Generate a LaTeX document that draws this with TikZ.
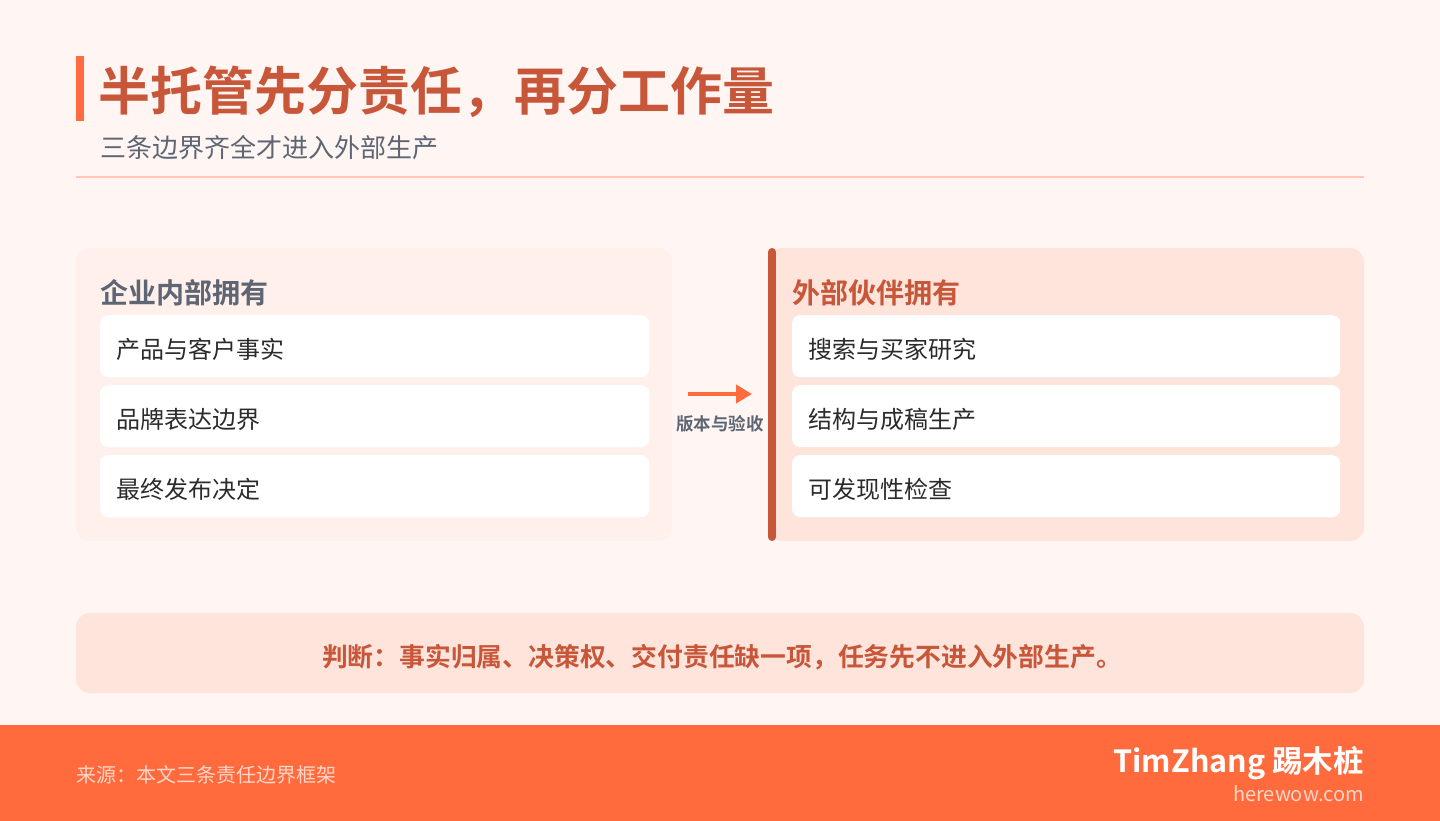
\documentclass[tikz,border=0pt]{standalone}
\usepackage{fontspec}
\usepackage{xcolor}
\usetikzlibrary{arrows.meta,positioning}
\setmainfont{Noto Sans CJK SC}
\newfontfamily\cjk{Noto Sans CJK SC}[BoldFont={* Bold}]

\definecolor{pagebg}{HTML}{FFF6F3}
\definecolor{softbg}{HTML}{FFF0EC}
\definecolor{warmbg}{HTML}{FFE4DC}
\definecolor{accent}{HTML}{FF6B3D}
\definecolor{rust}{HTML}{C8573A}
\definecolor{slate}{HTML}{5F6673}
\definecolor{ink}{HTML}{2B2B2B}
\definecolor{rule}{HTML}{FFC5B3}
\definecolor{peach}{HTML}{FFD6C8}

\tikzset{
  panel/.style={rounded corners=14pt, draw=none},
  itembox/.style={fill=white, rounded corners=8pt, minimum width=549pt, minimum height=62pt, anchor=north west, inner sep=0pt},
  itemtext/.style={anchor=west, inner sep=0pt, text=ink, font=\cjk\fontsize{24}{28}\selectfont},
  headtext/.style={anchor=west, inner sep=0pt, font=\cjk\bfseries\fontsize{28}{32}\selectfont},
}

\begin{document}
\begin{tikzpicture}[x=1pt,y=-1pt]
        \useasboundingbox (0,0) rectangle (1440,821);
        \fill[pagebg] (0,0) rectangle (1440,821);

        % title
        \fill[accent] (76,56) rectangle (84,121);
        \node[anchor=west, inner sep=0pt, text=rust, font=\cjk\bfseries\fontsize{52}{60}\selectfont] (title) at (98,92) {半托管先分责任，再分工作量};
        \node[anchor=west, inner sep=0pt, text=slate, font=\cjk\fontsize{26}{30}\selectfont] (subtitle) at (100,148) {三条边界齐全才进入外部生产};
        \draw[rule, line width=2pt] (76,177) -- (1364,177);

        % left panel
        \fill[panel, softbg] (76,248) rectangle (672,541);
        \node[headtext, text=slate] (lhead) at (100,293) {企业内部拥有};
        \node[itembox] (l1) at (100,315) {};
        \node[itembox] (l2) at (100,385) {};
        \node[itembox] (l3) at (100,455) {};
        \node[itemtext] at ([xshift=16pt,yshift=-3pt]l1.west) {产品与客户事实};
        \node[itemtext] at ([xshift=16pt,yshift=-3pt]l2.west) {品牌表达边界};
        \node[itemtext] at ([xshift=16pt,yshift=-3pt]l3.west) {最终发布决定};

        % right panel
        \fill[panel, warmbg] (768,248) rectangle (1364,541);
        \draw[rust, line width=8pt, line cap=round] (772,252) -- (772,537);
        \node[headtext, text=rust] (rhead) at (792,293) {外部伙伴拥有};
        \node[itembox, minimum width=548pt] (r1) at (792,315) {};
        \node[itembox, minimum width=548pt] (r2) at (792,385) {};
        \node[itembox, minimum width=548pt] (r3) at (792,455) {};
        \node[itemtext] at ([xshift=16pt,yshift=-3pt]r1.west) {搜索与买家研究};
        \node[itemtext] at ([xshift=16pt,yshift=-3pt]r2.west) {结构与成稿生产};
        \node[itemtext] at ([xshift=16pt,yshift=-3pt]r3.west) {可发现性检查};

        % hand-over arrow
        \coordinate (arrS) at (688,394);
        \coordinate (arrE) at (752,394);
        \draw[accent, line width=4pt, -{Triangle[length=16pt,width=18pt]}] (arrS) -- (arrE);
        \node[inner sep=0pt, text=slate, font=\cjk\bfseries\fontsize{17.5}{20}\selectfont] (hand) at (720,424) {版本与验收};

        % verdict
        \fill[panel, warmbg] (76,613) rectangle (1364,693);
        \node[inner sep=0pt, text=rust, font=\cjk\bfseries\fontsize{25.8}{32}\selectfont] (verdict) at (722,657) {判断：事实归属、决策权、交付责任缺一项，任务先不进入外部生产。};

        % footer
        \fill[accent] (0,725) rectangle (1440,821);
        \node[anchor=west, inner sep=0pt, text=peach, font=\cjk\fontsize{20}{24}\selectfont] (source) at (76,775) {来源：本文三条责任边界框架};
        \node[anchor=east, inner sep=0pt, text=white, font=\cjk\bfseries\fontsize{30.5}{34}\selectfont] (brand) at (1364,763) {TimZhang 踢木桩};
        \node[anchor=east, inner sep=0pt, text=peach, font=\cjk\fontsize{20}{24}\selectfont] (site) at (1364,794) {herewow.com};
\end{tikzpicture}
\end{document}
